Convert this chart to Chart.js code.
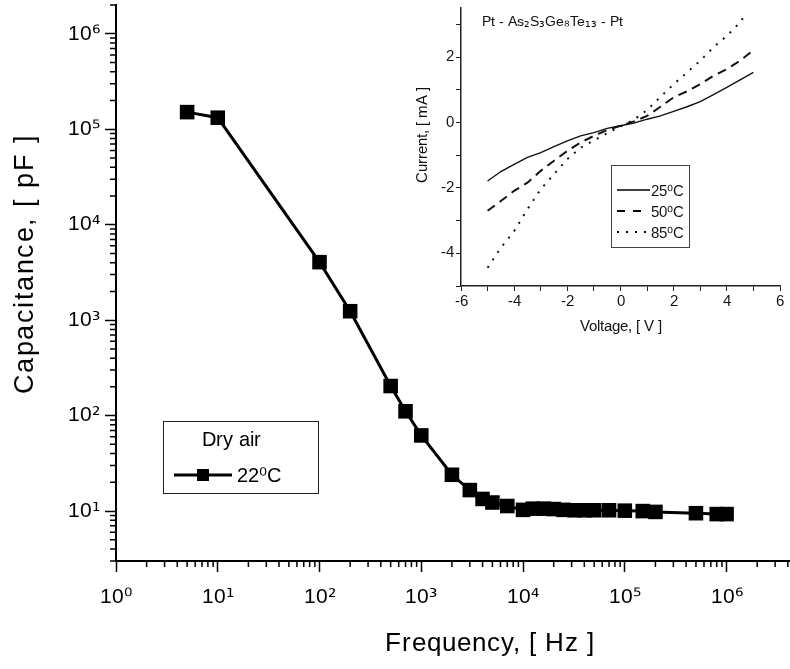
<!DOCTYPE html>
<html><head><meta charset="utf-8">
<script src="https://cdn.jsdelivr.net/npm/chart.js@4.4.1/dist/chart.umd.min.js"></script>
<style>
@font-face { font-family: 'MixSans'; src: local('Liberation Sans'), local('LiberationSans'); }
@font-face { font-family: 'MixSans'; src: local('DejaVu Sans'), local('DejaVuSans'); unicode-range: U+00B2-00B3, U+00B9, U+2070-209F; }
html,body{margin:0;padding:0;background:#fff;}
#wrap{position:relative;width:790px;height:669px;background:#fff;}
#main{position:absolute;left:0;top:0;}
#inset{position:absolute;left:400px;top:0;}
</style></head><body>
<div id="wrap">
<canvas id="main" width="790" height="669"></canvas>
<canvas id="inset" width="390" height="340"></canvas>
</div>
<script>
// ---------- main chart data ----------
const frequencyHz = [5,10,100,200,500,700,1000,2000,3000,4000,5000,7000,10000,12500,16000,20000,25000,32000,40000,50000,70000,100000,150000,200000,500000,800000,1000000];
const capacitancePF = [151000,132000,4050,1240,204,111,62,24,16.6,13.4,12.3,11.3,10.3,10.6,10.6,10.5,10.3,10.2,10.2,10.2,10.2,10.1,10.0,9.8,9.5,9.3,9.3];
const xDecades = [1,10,100,1000,10000,100000,1000000];
const xDecadeLabels = ['10⁰','10¹','10²','10³','10⁴','10⁵','10⁶'];
const yDecades = [10,100,1000,10000,100000,1000000];
const yDecadeLabels = ['10¹','10²','10³','10⁴','10⁵','10⁶'];
const xTitle = 'Frequency, [ Hz ]';
const yTitle = 'Capacitance, [ pF ]';
const legendTitle = 'Dry air';
const seriesLabel = '22⁰C';

// ---------- inset data ----------
const voltageV = [-5,-4.5,-4,-3.5,-3,-2.5,-2,-1.5,-1,-0.5,0,0.5,1,1.5,2,2.5,3,3.5,4,4.5,5];
const current25 = [-1.79,-1.50,-1.28,-1.07,-0.92,-0.74,-0.56,-0.41,-0.31,-0.18,-0.10,-0.02,0.10,0.20,0.34,0.48,0.64,0.85,1.07,1.30,1.53];
const current50 = [-2.70,-2.40,-2.09,-1.84,-1.48,-1.17,-0.87,-0.61,-0.41,-0.23,-0.10,0.03,0.20,0.48,0.77,0.95,1.17,1.43,1.63,1.89,2.21];
const voltage85 = [-5,-4.5,-4,-3.5,-3,-2.5,-2,-1.5,-1,-0.5,0,0.5,1,1.5,2,2.5,3,3.5,4,4.5,4.7];
const current85 = [-4.44,-3.83,-3.32,-2.65,-2.04,-1.58,-1.12,-0.77,-0.55,-0.33,-0.12,0.08,0.38,0.78,1.17,1.53,1.89,2.30,2.65,3.06,3.32];
const insetSeriesLabels = ['25⁰C','50⁰C','85⁰C'];
const insetTitle = 'Pt - As₂S₃Ge₈Te₁₃ - Pt';
const insetXTitle = 'Voltage, [ V ]';
const insetYTitle = 'Current, [ mA ]';

const FONT = "MixSans, 'Liberation Sans', Arial, sans-serif";
const X_MIN = 1, X_MAX = 4.2e6, Y_MIN = 3, Y_MAX = 2e6;

function isDecade(v){ const l = Math.log10(v); return Math.abs(l - Math.round(l)) < 1e-9; }
function logTicks(min, max){
  const out = [];
  for (let e = -1; e <= 7; e++) for (let m = 1; m <= 9; m++) {
    const v = m * Math.pow(10, e);
    if (v >= min*(1-1e-9) && v <= max*(1+1e-9)) out.push(v);
  }
  return out;
}
function decadeLabel(v, decs, labels){
  if (!isDecade(v)) return '';
  const i = decs.findIndex(d => Math.abs(d - v) / d < 1e-9);
  return i >= 0 ? labels[i] : '';
}
function zeroPadX(s){ s.paddingLeft = 0; s.paddingRight = 0; }
function zeroPadY(s){ s.paddingTop = 0; s.paddingBottom = 0; }

const mainDecor = {
  id: 'mainDecor',
  afterDraw(chart){
    const {ctx, chartArea: a, scales: {x, y}} = chart;
    ctx.save();
    ctx.strokeStyle = '#000'; ctx.lineWidth = 1.5;
    ctx.beginPath();
    x.ticks.forEach(t => { if (!isDecade(t.value)) { const p = x.getPixelForValue(t.value); ctx.moveTo(p, a.bottom); ctx.lineTo(p, a.bottom + 6); } });
    y.ticks.forEach(t => { if (!isDecade(t.value)) { const p = y.getPixelForValue(t.value); ctx.moveTo(a.left, p); ctx.lineTo(a.left - 6, p); } });
    ctx.stroke();
    ctx.fillStyle = '#000';
    ctx.font = '26px ' + FONT;
    ctx.textAlign = 'center'; ctx.textBaseline = 'alphabetic';
    try { ctx.letterSpacing = '1px'; } catch(e) {}
    ctx.fillText(xTitle, 490, 651);
    ctx.save();
    ctx.translate(33, 264); ctx.rotate(-Math.PI/2);
    ctx.font = '27px ' + FONT;
    try { ctx.letterSpacing = '1.5px'; } catch(e) {}
    ctx.fillText(yTitle, 0, 0);
    ctx.restore();
    try { ctx.letterSpacing = '0px'; } catch(e) {}
    ctx.strokeStyle = '#222'; ctx.lineWidth = 1;
    ctx.strokeRect(163.5, 421.5, 155, 72);
    ctx.font = '20px ' + FONT; ctx.textAlign = 'left';
    ctx.fillText(legendTitle, 202, 446);
    ctx.fillText(seriesLabel, 237, 482);
    ctx.strokeStyle = '#000'; ctx.lineWidth = 3;
    ctx.beginPath(); ctx.moveTo(174, 475); ctx.lineTo(232, 475); ctx.stroke();
    ctx.fillRect(197, 469, 12, 12);
    ctx.restore();
  }
};

const insetDecor = {
  id: 'insetDecor',
  afterDraw(chart){
    const {ctx} = chart;
    ctx.save();
    ctx.fillStyle = '#111';
    ctx.font = '15px ' + FONT;
    ctx.textAlign = 'center'; ctx.textBaseline = 'alphabetic';
    ctx.fillText(insetXTitle, 221, 331);
    ctx.save();
    ctx.translate(27, 135); ctx.rotate(-Math.PI/2);
    ctx.fillText(insetYTitle, 0, 0);
    ctx.restore();
    ctx.textAlign = 'left';
    ctx.font = '14px ' + FONT;
    ctx.fillText(insetTitle, 82, 26);
    ctx.strokeStyle = '#444'; ctx.lineWidth = 1;
    ctx.strokeRect(211.5, 165.5, 78, 82);
    ctx.font = '15px ' + FONT;
    const rows = [190, 211, 232];
    const styles = [{w:1.5, d:[]}, {w:2, d:[8,8]}, {w:2, d:[2,7]}];
    const ends = [250, 242, 249];
    rows.forEach((ry, i) => {
      ctx.strokeStyle = '#000'; ctx.lineWidth = styles[i].w; ctx.setLineDash(styles[i].d);
      ctx.beginPath(); ctx.moveTo(217, ry); ctx.lineTo(ends[i], ry); ctx.stroke();
      ctx.setLineDash([]);
      ctx.fillStyle = '#111';
      ctx.fillText(insetSeriesLabels[i], 251, ry + 6);
    });
    ctx.restore();
  }
};

function build(){
  new Chart(document.getElementById('main'), {
    type: 'line',
    data: {
      datasets: [{
        label: seriesLabel,
        data: frequencyHz.map((f, i) => ({x: f, y: capacitancePF[i]})),
        borderColor: '#000', backgroundColor: '#000',
        borderWidth: 3, tension: 0,
        pointStyle: 'rect', pointRadius: 10.3, pointBorderWidth: 0,
        pointBackgroundColor: '#000'
      }]
    },
    options: {
      responsive: false, animation: false, devicePixelRatio: 1,
      layout: {autoPadding: false, padding: {top: 5, left: 0, right: 0, bottom: 0}},
      plugins: {legend: {display: false}, tooltip: {enabled: false}},
      scales: {
        x: {
          type: 'logarithmic', min: X_MIN, max: X_MAX,
          afterBuildTicks: s => { s.ticks = logTicks(X_MIN, X_MAX).map(v => ({value: v})); },
          afterFit: s => { s.height = 108; zeroPadX(s); },
          border: {display: true, color: '#000', width: 2},
          grid: {display: true, drawOnChartArea: false, drawTicks: true, tickLength: 11, tickWidth: 1.5,
                 tickColor: c => (c.tick && isDecade(c.tick.value)) ? '#000' : 'rgba(0,0,0,0)'},
          ticks: {autoSkip: false, maxRotation: 0, minRotation: 0, padding: 13, color: '#000',
                  font: {family: FONT, size: 21},
                  callback: v => decadeLabel(v, xDecades, xDecadeLabels)}
        },
        y: {
          type: 'logarithmic', min: Y_MIN, max: Y_MAX,
          afterBuildTicks: s => { s.ticks = logTicks(Y_MIN, Y_MAX).map(v => ({value: v})); },
          afterFit: s => { s.width = 116; zeroPadY(s); },
          border: {display: true, color: '#000', width: 2},
          grid: {display: true, drawOnChartArea: false, drawTicks: true, tickLength: 11, tickWidth: 1.5,
                 tickColor: c => (c.tick && isDecade(c.tick.value)) ? '#000' : 'rgba(0,0,0,0)'},
          ticks: {autoSkip: false, padding: 5, color: '#000',
                  font: {family: FONT, size: 21},
                  callback: v => decadeLabel(v, yDecades, yDecadeLabels)}
        }
      }
    },
    plugins: [mainDecor]
  });

  const insetFont = {family: FONT, size: 15};
  new Chart(document.getElementById('inset'), {
    type: 'line',
    data: {
      datasets: [
        {label: insetSeriesLabels[0], data: voltageV.map((v, i) => ({x: v, y: current25[i]})),
         borderColor: '#111', borderWidth: 1.4, pointRadius: 0, tension: 0},
        {label: insetSeriesLabels[1], data: voltageV.map((v, i) => ({x: v, y: current50[i]})),
         borderColor: '#111', borderWidth: 2, borderDash: [9, 6], pointRadius: 0, tension: 0},
        {label: insetSeriesLabels[2], data: voltage85.map((v, i) => ({x: v, y: current85[i]})),
         borderColor: '#111', borderWidth: 2, borderDash: [2, 7], pointRadius: 0, tension: 0}
      ]
    },
    options: {
      responsive: false, animation: false, devicePixelRatio: 1,
      layout: {autoPadding: false, padding: {top: 8, left: 0, right: 10, bottom: 0}},
      plugins: {legend: {display: false}, tooltip: {enabled: false}},
      scales: {
        x: {
          type: 'linear', min: -6, max: 6,
          afterFit: s => { s.height = 54; zeroPadX(s); },
          border: {display: true, color: '#222', width: 1.5},
          grid: {display: true, drawOnChartArea: false, drawTicks: true, tickLength: 5, tickWidth: 1, tickColor: '#222'},
          ticks: {stepSize: 1, autoSkip: false, maxRotation: 0, padding: 2, color: '#111', font: insetFont,
                  callback: v => (Math.round(v) % 2 === 0) ? String(v) : ''}
        },
        y: {
          type: 'linear', min: -5, max: 3.5,
          afterFit: s => { s.width = 61; zeroPadY(s); },
          border: {display: true, color: '#222', width: 1.5},
          grid: {display: true, drawOnChartArea: false, drawTicks: true, tickLength: 5, tickWidth: 1, tickColor: '#222'},
          ticks: {stepSize: 1, includeBounds: false, autoSkip: false, padding: 2, color: '#111', font: insetFont,
                  callback: v => (Math.round(v) % 2 === 0) ? String(v) : ''}
        }
      }
    },
    plugins: [insetDecor]
  });
}

(async () => {
  try {
    await Promise.all([
      document.fonts.load("21px MixSans", "10⁰¹²³⁴⁵⁶₂₃₈₁"),
      document.fonts.load("21px MixSans", "Frequency")
    ]);
  } catch (e) {}
  build();
})();
</script>
</body></html>
